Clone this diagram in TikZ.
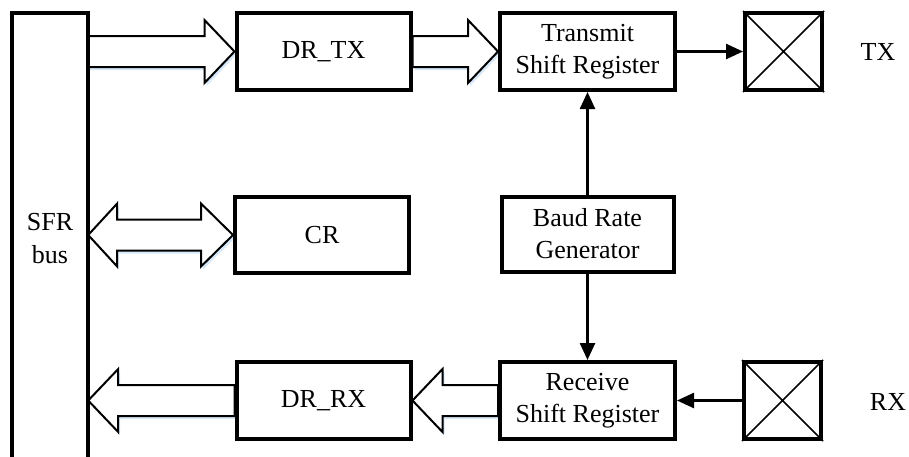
\documentclass[tikz,border=0pt]{standalone}
\usepackage{fontspec}
\setmainfont{Liberation Serif}
\usetikzlibrary{arrows.meta,calc}
\pgfdeclarelayer{arrowlayer}
\pgfsetlayers{arrowlayer,main}
\tikzset{
  blk/.style={draw,line width=4pt,rectangle,align=center,inner sep=0pt,fill=white,
    font=\fontsize{26}{32}\selectfont},
  regbox/.style={blk,minimum width=174pt,minimum height=77pt},
  xbox/.style={blk,minimum width=77pt,minimum height=77pt},
  fat/.style={draw,line width=2pt,fill=white,line join=miter},
  fatshadow/.style={fill={rgb,255:red,205;green,228;blue,246},draw=none,opacity=0.8},
  thin/.style={line width=2.5pt,-{Triangle[length=17pt,width=15pt]}},
  lbl/.style={font=\fontsize{26}{32}\selectfont,inner sep=0pt,align=center}
}
\newcommand{\fatRight}[2]{%
  \fill[fatshadow] let \p1=(#1),\p2=(#2) in
    ([shift={(2pt,-3pt)}]\x1,\y2+15.5pt) -- ([shift={(2pt,-3pt)}]\x2-30pt,\y2+15.5pt) -- ([shift={(2pt,-3pt)}]\x2-30pt,\y2+31.5pt) --
    ([shift={(2pt,-3pt)}]\x2,\y2) -- ([shift={(2pt,-3pt)}]\x2-30pt,\y2-31.5pt) -- ([shift={(2pt,-3pt)}]\x2-30pt,\y2-15.5pt) --
    ([shift={(2pt,-3pt)}]\x1,\y2-15.5pt) -- cycle;
  \draw[fat] let \p1=(#1),\p2=(#2) in
    (\x1,\y2+15.5pt) -- (\x2-30pt,\y2+15.5pt) -- (\x2-30pt,\y2+31.5pt) --
    (\x2,\y2) -- (\x2-30pt,\y2-31.5pt) -- (\x2-30pt,\y2-15.5pt) --
    (\x1,\y2-15.5pt) -- cycle;}
\newcommand{\fatLeft}[2]{%
  \fill[fatshadow] let \p1=(#1),\p2=(#2) in
    ([shift={(2pt,-3pt)}]\x1,\y1+15.5pt) -- ([shift={(2pt,-3pt)}]\x2+30pt,\y1+15.5pt) -- ([shift={(2pt,-3pt)}]\x2+30pt,\y1+31.5pt) --
    ([shift={(2pt,-3pt)}]\x2,\y1) -- ([shift={(2pt,-3pt)}]\x2+30pt,\y1-31.5pt) -- ([shift={(2pt,-3pt)}]\x2+30pt,\y1-15.5pt) --
    ([shift={(2pt,-3pt)}]\x1,\y1-15.5pt) -- cycle;
  \draw[fat] let \p1=(#1),\p2=(#2) in
    (\x1,\y1+15.5pt) -- (\x2+30pt,\y1+15.5pt) -- (\x2+30pt,\y1+31.5pt) --
    (\x2,\y1) -- (\x2+30pt,\y1-31.5pt) -- (\x2+30pt,\y1-15.5pt) --
    (\x1,\y1-15.5pt) -- cycle;}
\begin{document}
\begin{tikzpicture}[x=1pt,y=-1pt]
\useasboundingbox (0,0) rectangle (909,456);
\clip (0,0) rectangle (909,456);
% SFR bus
\node[minimum width=76pt,minimum height=460pt,inner sep=0pt] (sfr) at (50,243) {};
\draw[line width=3.5pt] (sfr.south west) -- (sfr.north west) -- (sfr.north east) -- (sfr.south east);
\node[lbl,font=\fontsize{26}{33}\selectfont] (sfrtxt) at (50,239) {SFR\\bus};
% boxes
\node[regbox] (dtx) at (323.5,51.5) {DR\_TX};
\node[regbox,minimum width=175pt] (tsr) at (587.5,51.5) {Transmit\\Shift Register};
\node[xbox] (xtx) at (783.5,51.5) {};
\draw[line width=1.5pt] (xtx.north west) -- (xtx.south east) (xtx.south west) -- (xtx.north east);
\node[lbl] (txl) at (878,52) {TX};
\node[regbox,minimum height=76pt] (cr) at (322,235) {CR};
\node[regbox,minimum width=172pt,minimum height=75pt] (baud) at (587.5,234) {Baud Rate\\Generator};
\node[regbox,minimum width=175pt] (rsr) at (587.5,400.5) {Receive\\Shift Register};
\node[regbox] (drx) at (323.5,400.5) {DR\_RX};
\node[xbox] (xrx) at (782.5,400.5) {};
\draw[line width=1.5pt] (xrx.north west) -- (xrx.south east) (xrx.south west) -- (xrx.north east);
\node[lbl] (rxl) at (888,402) {RX};
\begin{pgfonlayer}{arrowlayer}
% fat arrows
\fatRight{sfr.east}{dtx.west}
\fatRight{dtx.east}{tsr.west}
\fatLeft{drx.west}{sfr.east|-drx.west}
\fatLeft{rsr.west}{drx.east}
% double arrow
\fill[fatshadow] let \p1=(sfr.east|-cr.west),\p2=(cr.west) in
  ([shift={(2pt,-3pt)}]\x1,\y1) -- ([shift={(2pt,-3pt)}]\x1+29pt,\y1+31.5pt) -- ([shift={(2pt,-3pt)}]\x1+29pt,\y1+15.5pt) -- ([shift={(2pt,-3pt)}]\x2-32pt,\y1+15.5pt) --
  ([shift={(2pt,-3pt)}]\x2-32pt,\y1+31.5pt) -- ([shift={(2pt,-3pt)}]\x2,\y1) -- ([shift={(2pt,-3pt)}]\x2-32pt,\y1-31.5pt) -- ([shift={(2pt,-3pt)}]\x2-32pt,\y1-15.5pt) --
  ([shift={(2pt,-3pt)}]\x1+29pt,\y1-15.5pt) -- ([shift={(2pt,-3pt)}]\x1+29pt,\y1-31.5pt) -- cycle;
\draw[fat] let \p1=(sfr.east|-cr.west),\p2=(cr.west) in
  (\x1,\y1) -- (\x1+29pt,\y1+31.5pt) -- (\x1+29pt,\y1+15.5pt) -- (\x2-32pt,\y1+15.5pt) --
  (\x2-32pt,\y1+31.5pt) -- (\x2,\y1) -- (\x2-32pt,\y1-31.5pt) -- (\x2-32pt,\y1-15.5pt) --
  (\x1+29pt,\y1-15.5pt) -- (\x1+29pt,\y1-31.5pt) -- cycle;
\end{pgfonlayer}
% thin arrows
\draw[thin] (tsr.east) -- (xtx.west);
\draw[thin] (baud.north) -- (tsr.south);
\draw[thin] (baud.south) -- (rsr.north);
\draw[thin] (xrx.west) -- (rsr.east);
\end{tikzpicture}
\end{document}
